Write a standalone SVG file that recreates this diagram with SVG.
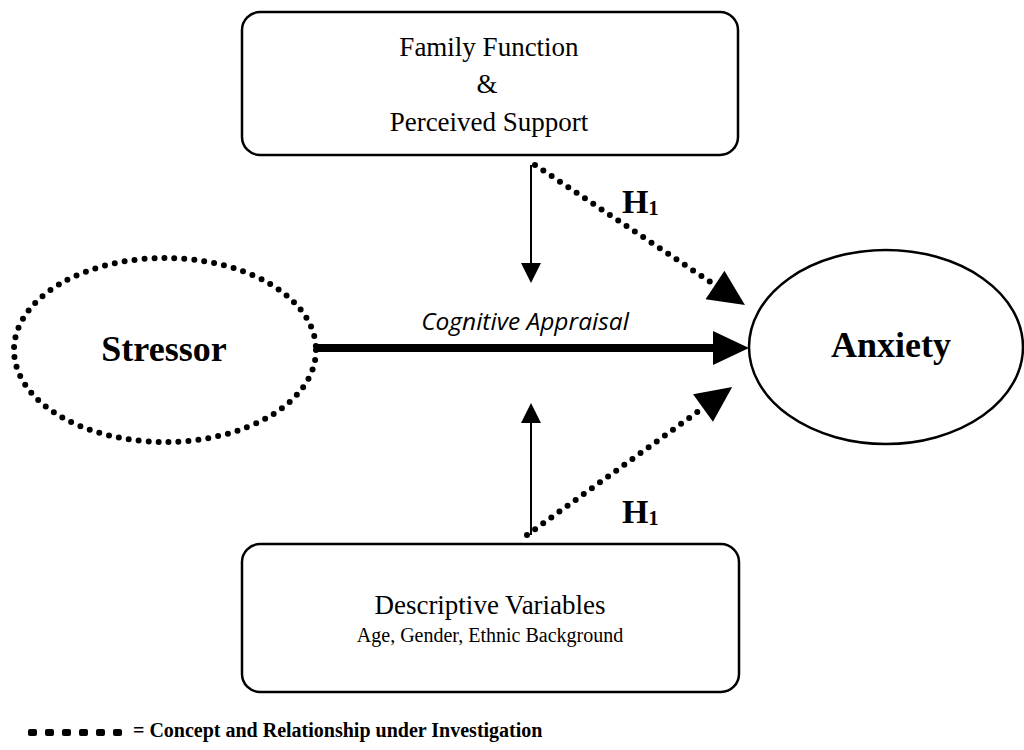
<svg xmlns="http://www.w3.org/2000/svg" width="1024" height="750" viewBox="0 0 1024 750">
  <style>
    .box { fill: #fff; stroke: #000; stroke-width: 2.5; }
    .oval { fill: #fff; stroke: #000; stroke-width: 2.5; }
    .dotted { fill: none; stroke: #000; stroke-width: 6; stroke-linecap: round; stroke-dasharray: 0 10; }
    .thin { fill: none; stroke: #000; stroke-width: 2; }
    .thick { fill: none; stroke: #000; stroke-width: 8; }
    .t { font-family: "Liberation Serif", "Times New Roman", serif; fill: #000; text-anchor: middle; }
    .title { font-size: 27px; }
    .sub { font-size: 20px; }
    .big { font-size: 36px; font-weight: bold; }
    .hyp { font-size: 34px; font-weight: bold; text-anchor: start; }
    .italic { font-family: "Open Sans", "Lato", sans-serif; font-style: italic; font-size: 24.5px; fill: #000; text-anchor: middle; }
    .legend { font-family: "Liberation Serif", "Times New Roman", serif; font-size: 20px; font-weight: bold; fill: #000; }
  </style>
  <defs>
    <marker id="headBig" markerUnits="userSpaceOnUse" markerWidth="40" markerHeight="36" refX="0" refY="17" orient="auto" overflow="visible">
      <path d="M0,0 L36,17 L0,34 z" fill="#000"/>
    </marker>
    <marker id="headSmall" markerUnits="userSpaceOnUse" markerWidth="22" markerHeight="22" refX="0" refY="10" orient="auto" overflow="visible">
      <path d="M0,0 L20,10 L0,20 z" fill="#000"/>
    </marker>
  </defs>

  <rect width="1024" height="750" fill="#fff"/>

  <!-- connectors -->
  <g id="connectors">
    <line class="thick" x1="316" y1="348" x2="713" y2="348" marker-end="url(#headBig)"/>
    <line class="thin" x1="531" y1="165" x2="531" y2="263" marker-end="url(#headSmall)"/>
    <line class="thin" x1="531" y1="535" x2="531" y2="423" marker-end="url(#headSmall)"/>
    <line class="dotted" x1="535" y1="165" x2="715" y2="285" marker-end="url(#headBig)"/>
    <line class="dotted" x1="527" y1="535" x2="703" y2="408" marker-end="url(#headBig)"/>
    <text class="italic" x="525" y="330">Cognitive Appraisal</text>
    <text class="t hyp" x="622" y="213">H<tspan font-size="20" dy="2">1</tspan></text>
    <text class="t hyp" x="622" y="523">H<tspan font-size="20" dy="2">1</tspan></text>
  </g>

  <!-- family function node -->
  <g id="family">
    <rect class="box" x="242" y="12" width="496" height="143" rx="18" ry="18"/>
    <text class="t title" x="489" y="56">Family Function</text>
    <text class="t title" x="487" y="93">&amp;</text>
    <text class="t title" x="489" y="131">Perceived Support</text>
  </g>

  <!-- descriptive variables node -->
  <g id="descriptive">
    <rect class="box" x="242" y="544" width="497" height="148" rx="18" ry="18"/>
    <text class="t title" x="490" y="614">Descriptive Variables</text>
    <text class="t sub" x="490" y="642">Age, Gender, Ethnic Background</text>
  </g>

  <!-- stressor node -->
  <g id="stressor">
    <ellipse class="dotted" cx="165" cy="350" rx="151" ry="92"/>
    <text class="t big" x="164" y="361">Stressor</text>
  </g>

  <!-- anxiety node -->
  <g id="anxiety">
    <ellipse class="oval" cx="886" cy="347" rx="137" ry="97"/>
    <text class="t big" x="891" y="357">Anxiety</text>
  </g>

  <!-- legend -->
  <g id="legend">
    <rect x="28" y="729" width="9" height="7" rx="2"/>
    <rect x="45" y="729" width="9" height="7" rx="2"/>
    <rect x="62" y="729" width="9" height="7" rx="2"/>
    <rect x="79" y="729" width="9" height="7" rx="2"/>
    <rect x="96" y="729" width="9" height="7" rx="2"/>
    <rect x="113" y="729" width="9" height="7" rx="2"/>
    <text class="legend" x="133" y="737">= Concept and Relationship under Investigation</text>
  </g>
</svg>
